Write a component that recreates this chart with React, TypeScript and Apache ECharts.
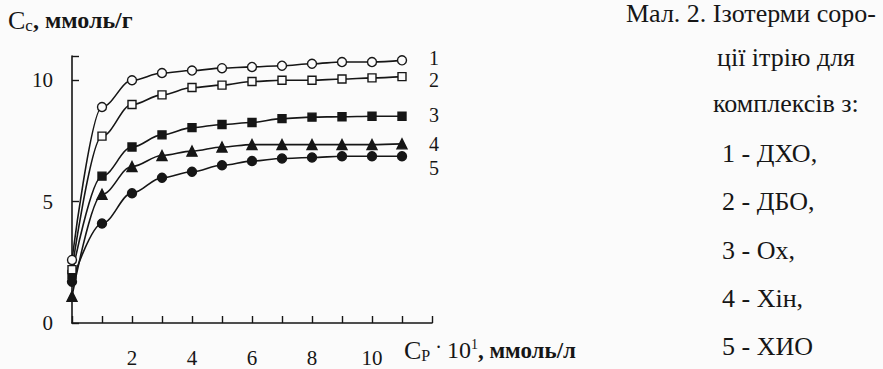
import React, { useEffect, useRef } from "react";
import * as echarts from "echarts";

// Cp·10^1, mmol/l
const xValues = [0, 1, 2, 3, 4, 5, 6, 7, 8, 9, 10, 11];
// Cc, mmol/g
const s1DXO = [2.6, 8.9, 10.0, 10.3, 10.4, 10.5, 10.55, 10.6, 10.68, 10.75, 10.75, 10.82];
const s2DBO = [2.2, 7.7, 9.0, 9.4, 9.7, 9.8, 9.95, 10.0, 10.0, 10.05, 10.1, 10.15];
const s3Ox = [2.0, 6.05, 7.25, 7.75, 8.05, 8.18, 8.26, 8.42, 8.48, 8.5, 8.52, 8.52];
const s4Hin = [1.1, 5.3, 6.45, 6.9, 7.08, 7.25, 7.35, 7.35, 7.35, 7.35, 7.35, 7.38];
const s5HIO = [1.7, 4.1, 5.35, 5.98, 6.23, 6.5, 6.67, 6.78, 6.82, 6.87, 6.87, 6.87];

const seriesNames = ["1", "2", "3", "4", "5"];
const xTickLabels = [2, 4, 6, 8, 10];
const yTickLabels = [0, 5, 10];

const captionLines = [
  "Мал. 2. Ізотерми соро-",
  "ції ітрію для",
  "комплексів з:",
  "1 - ДХО,",
  "2 - ДБО,",
  "3 - Ох,",
  "4 - Хін,",
  "5 - ХИО",
];

const FONT = "Liberation Serif";
const INK = "#161616";
const BG = "#fbfbfb";

export default function App() {
  const ref = useRef<HTMLDivElement>(null);

  useEffect(() => {
    if (!ref.current) return;
    const chart = echarts.init(ref.current, null, { renderer: "svg" });

    const allSeries = [s1DXO, s2DBO, s3Ox, s4Hin, s5HIO];
    const symbols = ["circle", "rect", "rect", "triangle", "circle"];
    const filled = [false, false, true, true, true];
    const sizes = [9, 8, 8, 10, 9];
    const labelOffsets = [[0, -2], [0, 3], [0, -1], [0, 0], [0, 12]];

    const series = allSeries.map((vals, i) => ({
      type: "line",
      name: seriesNames[i],
      data: vals.map((v, k) => [xValues[k], v]),
      smooth: 0.35,
      smoothMonotone: "x",
      symbol: symbols[i],
      symbolSize: sizes[i],
      showAllSymbol: true,
      lineStyle: { color: INK, width: 1.6 },
      itemStyle: {
        color: filled[i] ? INK : BG,
        borderColor: INK,
        borderWidth: 1.4,
      },
      endLabel: {
        show: true,
        formatter: seriesNames[i],
        distance: 27,
        offset: labelOffsets[i],
        color: INK,
        fontFamily: FONT,
        fontSize: 20,
        lineHeight: 16,
      },
      z: 5 - i,
    }));

    const captionTop = [0, 44, 90, 140, 188, 237, 285, 333];
    const captionX = [626, 717, 713, 722, 722, 722, 722, 722];

    const graphics: any[] = captionLines.map((t, i) => ({
      type: "text",
      left: captionX[i],
      top: captionTop[i],
      style: {
        text: t,
        fill: INK,
        fontFamily: FONT,
        fontSize: 26,
      },
    }));

    graphics.push({
      type: "text",
      left: 8,
      top: 7,
      style: {
        text: "{c|C}{s|c}{u|, ммоль/г}",
        rich: {
          c: { fontFamily: FONT, fontSize: 26, fill: INK, color: INK },
          s: { fontFamily: FONT, fontSize: 17, fill: INK, color: INK, padding: [10, 0, 0, 0] },
          u: { fontFamily: FONT, fontSize: 24, fontWeight: "bold", fill: INK, color: INK },
        },
      },
    });

    graphics.push({
      type: "text",
      left: 404,
      top: 337,
      style: {
        text: "{c|C}{s|P}{d| · }{n|10}{e|1}{u|, ммоль/л}",
        rich: {
          c: { fontFamily: FONT, fontSize: 26, fill: INK, color: INK },
          s: { fontFamily: FONT, fontSize: 16, fill: INK, color: INK, padding: [10, 0, 0, 0] },
          d: { fontFamily: FONT, fontSize: 20, fill: INK, color: INK, padding: [0, 0, 6, 0] },
          n: { fontFamily: FONT, fontSize: 24, fill: INK, color: INK },
          e: { fontFamily: FONT, fontSize: 14, fill: INK, color: INK, padding: [0, 0, 12, 0] },
          u: { fontFamily: FONT, fontSize: 23, fontWeight: "bold", fill: INK, color: INK },
        },
      },
    });

    chart.setOption({
      animation: false,
      backgroundColor: BG,
      textStyle: { fontFamily: FONT },
      grid: { left: 72, top: 56, width: 360, height: 267 },
      xAxis: {
        type: "value",
        min: 0,
        max: 12,
        interval: 1,
        axisLine: { show: true, lineStyle: { color: INK, width: 1.6 } },
        axisTick: { show: true, inside: true, length: 7, lineStyle: { color: INK, width: 1.4 } },
        splitLine: { show: false },
        axisLabel: {
          margin: 24,
          color: INK,
          fontFamily: FONT,
          fontSize: 21,
          formatter: (v: number) => (xTickLabels.indexOf(v) >= 0 ? String(v) : ""),
        },
      },
      yAxis: {
        type: "value",
        min: 0,
        max: 11,
        interval: 5,
        axisLine: { show: true, lineStyle: { color: INK, width: 1.6 } },
        axisTick: { show: true, inside: true, length: 7, lineStyle: { color: INK, width: 1.4 } },
        splitLine: { show: false },
        axisLabel: {
          margin: 19,
          color: INK,
          fontFamily: FONT,
          fontSize: 21,
          formatter: (v: number) => (yTickLabels.indexOf(v) >= 0 ? String(v) : ""),
        },
      },
      series,
      graphic: graphics,
    });

    return () => chart.dispose();
  }, []);

  return (
    <div
      ref={ref}
      style={{ position: "fixed", left: 0, top: 0, width: 883, height: 369, background: BG }}
    />
  );
}
